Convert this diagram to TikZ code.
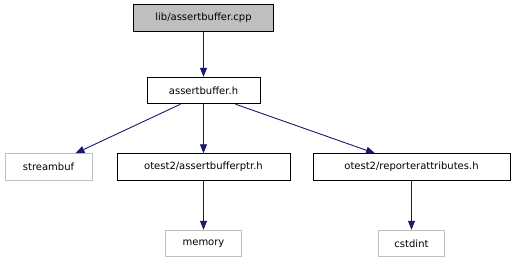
\documentclass[tikz,border=0pt]{standalone}
\usepackage{fontspec}
\setmainfont{DejaVu Sans}
\usetikzlibrary{arrows.meta}
\definecolor{edgeblue}{HTML}{191970}
\definecolor{extgray}{HTML}{BFBFBF}
\begin{document}
\begin{tikzpicture}[x=1pt,y=-1pt,
  box/.style={draw=black, fill=white, minimum height=26.5pt, inner xsep=5pt, font=\fontsize{10}{12}\selectfont, line width=0.9pt},
  curbox/.style={box, fill=extgray},
  extbox/.style={box, draw=extgray, text=black},
  dep/.style={draw=edgeblue, line width=0.9pt, -{Triangle[length=9pt,width=7pt]}}]
\useasboundingbox (0,0) rectangle (514,261);
% include graph nodes
\node[curbox, minimum width=140pt] (cpp) at (203.5,18) {lib/assertbuffer.cpp};
\node[box, minimum width=113pt] (h) at (203.5,90.5) {assertbuffer.h};
\node[extbox, minimum width=87pt] (sb) at (48.5,167) {streambuf};
\node[box, minimum width=173pt] (abp) at (203.5,167) {otest2/assertbufferptr.h};
\node[box, minimum width=197pt] (ra) at (411.5,167) {otest2/reporterattributes.h};
\node[extbox, minimum width=76pt] (mem) at (203.5,243.5) {memory};
\node[extbox, minimum width=66pt] (cst) at (411.5,243.5) {cstdint};
% include dependencies
\draw[dep] (cpp) -- (h);
\draw[dep] ([xshift=-23pt]h.south) -- ([xshift=27pt]sb.north);
\draw[dep] (h) -- (abp);
\draw[dep] ([xshift=32pt]h.south) -- ([xshift=-36.5pt]ra.north);
\draw[dep] (abp) -- (mem);
\draw[dep] (ra) -- (cst);
\end{tikzpicture}
\end{document}
